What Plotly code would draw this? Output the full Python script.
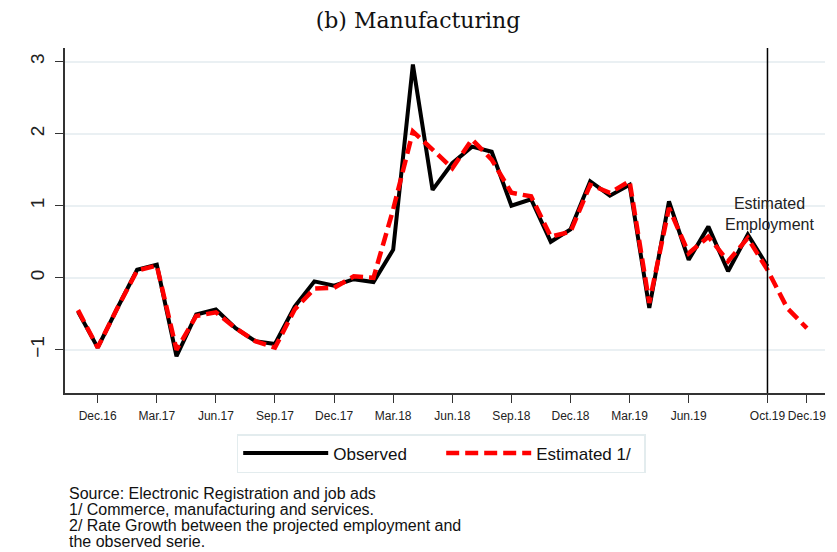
import plotly.graph_objects as go

months = ["Nov.16", "Dec.16", "Jan.17", "Feb.17", "Mar.17", "Apr.17", "May.17", "Jun.17",
          "Jul.17", "Aug.17", "Sep.17", "Oct.17", "Nov.17", "Dec.17", "Jan.18", "Feb.18",
          "Mar.18", "Apr.18", "May.18", "Jun.18", "Jul.18", "Aug.18", "Sep.18", "Oct.18",
          "Nov.18", "Dec.18", "Jan.19", "Feb.19", "Mar.19", "Apr.19", "May.19", "Jun.19",
          "Jul.19", "Aug.19", "Sep.19", "Oct.19", "Nov.19", "Dec.19"]

observed = [-0.47, -0.97, -0.42, 0.11, 0.18, -1.09, -0.51, -0.44, -0.70, -0.88, -0.92, -0.40,
            -0.05, -0.11, -0.02, -0.06, 0.39, 2.96, 1.22, 1.59, 1.82, 1.75, 1.00, 1.09,
            0.50, 0.67, 1.34, 1.14, 1.29, -0.42, 1.06, 0.25, 0.71, 0.09, 0.60, 0.16]

estimated = [-0.45, -0.97, -0.42, 0.10, 0.17, -1.00, -0.53, -0.48, -0.70, -0.88, -0.97, -0.44,
             -0.15, -0.14, 0.02, 0.00, 0.95, 2.03, 1.78, 1.52, 1.92, 1.64, 1.18, 1.13,
             0.57, 0.64, 1.29, 1.18, 1.34, -0.35, 0.97, 0.34, 0.57, 0.23, 0.55, 0.11,
             -0.42, -0.70]

tick_labels = ["Dec.16", "Mar.17", "Jun.17", "Sep.17", "Dec.17", "Mar.18", "Jun.18",
               "Sep.18", "Dec.18", "Mar.19", "Jun.19", "Oct.19", "Dec.19"]
y_ticks = [-1, 0, 1, 2, 3]

source_lines = ["Source: Electronic Registration and job ads",
                "1/ Commerce, manufacturing and services.",
                "2/ Rate Growth between the projected employment and",
                "the observed serie."]

FONT = "Liberation Sans, Arial, sans-serif"
PLOT_H = 345.0

fig = go.Figure()
fig.add_trace(go.Scatter(x=months[:len(observed)], y=observed, mode="lines", name="Observed",
                         line=dict(color="black", width=4)))
fig.add_trace(go.Scatter(x=months, y=estimated, mode="lines", name="Estimated 1/",
                         line=dict(color="#ff0000", width=4.5, dash="13px,6px")))

cut_idx = len(observed) - 1
fig.add_shape(type="line", xref="x", yref="paper", x0=cut_idx, x1=cut_idx, y0=0, y1=1,
              line=dict(color="black", width=1.5))
fig.add_annotation(x=cut_idx + 0.12, y=0.88, xref="x", yref="y",
                   text="Estimated<br>Employment", showarrow=False,
                   xanchor="center", yanchor="middle", align="center", borderpad=0,
                   font=dict(family=FONT, size=16, color="#222"))

for i, line in enumerate(source_lines):
    fig.add_annotation(x=0.004, y=-(100 + i * 16) / PLOT_H, xref="paper", yref="paper",
                       text=line, showarrow=False, xanchor="left", yanchor="middle",
                       borderpad=0,
                       font=dict(family=FONT, size=16, color="#111"))

fig.update_layout(
    width=829, height=544,
    margin=dict(l=57, r=12, t=40, b=159),
    paper_bgcolor="white", plot_bgcolor="white",
    title=dict(text="(b) Manufacturing", x=0.4946, xanchor="center",
               y=1 - 12 / 544, yanchor="middle",
               font=dict(family="DejaVu Serif, serif", size=22, color="#111")),
    showlegend=True,
    legend=dict(orientation="h", x=0.495, xanchor="center", y=-0.119, yanchor="top",
                bordercolor="#e3ecee", borderwidth=1.5, bgcolor="white",
                font=dict(family=FONT, size=17, color="#111"),
                itemwidth=85, entrywidth=103),
)
fig.update_xaxes(type="category", categoryorder="array", categoryarray=months,
                 range=[-0.66, 37.92], tickmode="array", tickvals=tick_labels,
                 ticktext=tick_labels, ticks="outside", ticklen=8, tickcolor="#333",
                 showline=True, linecolor="#333", linewidth=1.5, showgrid=False,
                 tickangle=0, automargin=False, ticklabelstandoff=3,
                 tickfont=dict(family=FONT, size=12, color="#222"))
fig.update_yaxes(range=[-1.6, 3.19], tickvals=y_ticks, ticks="outside", ticklen=8,
                 tickcolor="#333", showline=True, linecolor="#333", linewidth=1.5,
                 showgrid=True, gridcolor="#eaf0f3", gridwidth=1.5, zeroline=False,
                 tickangle=-90, ticklabelstandoff=4, automargin=False,
                 tickfont=dict(family=FONT, size=19, color="#222"))

fig.write_html("out.html")
